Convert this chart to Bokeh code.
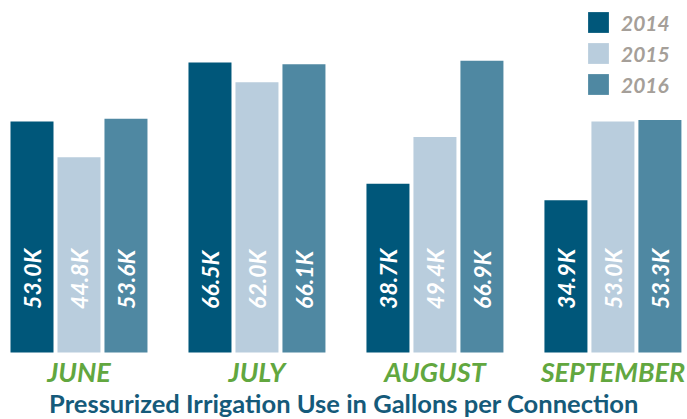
import math
from bokeh.plotting import figure
from bokeh.models import ColumnDataSource, Range1d, Legend, LegendItem
from bokeh.core.properties import value
from bokeh.embed import file_html
from bokeh.resources import INLINE

months = ["JUNE", "JULY", "AUGUST", "SEPTEMBER"]
years = ["2014", "2015", "2016"]
v2014 = [53.0, 66.5, 38.7, 34.9]
v2015 = [44.8, 62.0, 49.4, 53.0]
v2016 = [53.6, 66.1, 66.9, 53.3]
series = [v2014, v2015, v2016]
colors = ["#00577a", "#b9cddd", "#4f88a2"]
title_text = "Pressurized Irrigation Use in Gallons per Connection"

FONT = "Lato"
step = 0.264
bar_w = 0.2416
X0, X1 = -0.441, 3.419
Y0, Y1 = -15.37, 80.73
VALUE_LABEL_Y = 10
MONTH_Y = -4.4
TITLE_Y = -11.5

p = figure(width=687, height=419, output_backend="svg", toolbar_location=None,
           x_range=Range1d(X0, X1), y_range=Range1d(Y0, Y1),
           min_border=0, min_border_left=0, min_border_right=0, min_border_top=0, min_border_bottom=0)
p.outline_line_color = None
p.grid.visible = False
p.axis.visible = False
p.background_fill_color = "white"
p.border_fill_color = "white"

items = []
for j, (yr, vals, c) in enumerate(zip(years, series, colors)):
    xs = [i + (j - 1) * step for i in range(len(months))]
    src = ColumnDataSource(dict(x=xs, top=vals, lab=[f"{v:.1f}K" for v in vals]))
    r = p.vbar(x="x", top="top", width=bar_w, bottom=0, source=src, fill_color=c, line_color=None)
    p.text(x="x", y=VALUE_LABEL_Y, text="lab", source=src, angle=math.pi / 2, text_align="left",
           text_baseline="middle", text_color="white", text_font=value(FONT),
           text_font_style="bold italic", text_font_size="23px")
    items.append(LegendItem(label=yr, renderers=[r]))

msrc = ColumnDataSource(dict(x=list(range(len(months))), lab=months))
p.text(x="x", y=MONTH_Y, text="lab", source=msrc, text_align="center", text_baseline="alphabetic",
       text_color="#62a73f", text_font=value(FONT), text_font_style="bold italic",
       text_font_size="27px")

p.text(x=[(X0 + X1) / 2], y=[TITLE_Y], text=[title_text], text_align="center",
       text_baseline="alphabetic", text_color="#155a7a", text_font=value(FONT),
       text_font_style="bold", text_font_size="25.5px")

legend = Legend(items=items, location=(585, 322), orientation="vertical",
                glyph_width=26, glyph_height=26, label_standoff=10, spacing=5,
                padding=0, margin=0, border_line_color=None, background_fill_alpha=0,
                label_text_font=FONT, label_text_font_style="bold italic",
                label_text_font_size="21px", label_text_color="#a59f99", label_height=26)
p.add_layout(legend, "center")

open("out.html", "w").write(file_html(p, INLINE))
